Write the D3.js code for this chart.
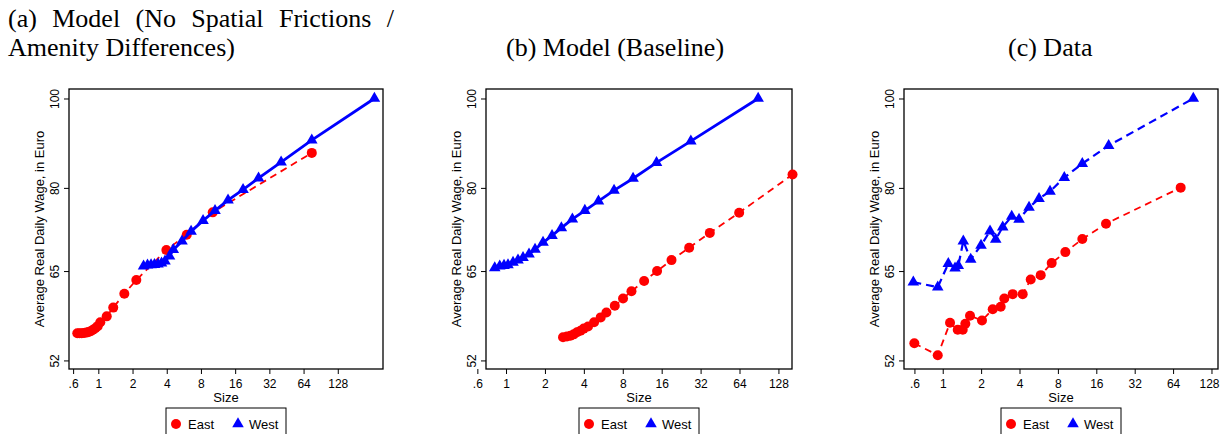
<!DOCTYPE html>
<html>
<head>
<meta charset="utf-8">
<script src="https://cdn.jsdelivr.net/npm/d3@7"></script>
<style>
    body { margin: 0; background: #fff; }
    .title { font-family: "Liberation Serif", "Times New Roman", serif; font-size: 26px; fill: #000; }
</style>
</head>
<body>
<svg id="chart" width="1220" height="434"></svg>
<script>
// ---- data (size = city size, wage = avg real daily wage) ----
// (a) Model, no spatial frictions / amenity differences
const aEastSize = [0.653, 0.683, 0.714, 0.748, 0.784, 0.820, 0.857, 0.898, 0.941, 0.988, 1.041, 1.186, 1.353, 1.694, 2.16, 3.97, 6.00, 10.16, 75.6];
const aEastWage = [55.66, 55.66, 55.66, 55.68, 55.74, 55.82, 55.94, 56.13, 56.34, 56.65, 57.19, 58.05, 59.33, 61.42, 63.56, 68.51, 71.18, 75.26, 87.30];
const aWestSize = [2.50, 2.71, 2.91, 3.12, 3.35, 3.60, 3.86, 4.23, 4.57, 5.45, 6.55, 8.35, 10.64, 13.85, 18.78, 25.7, 40.6, 75.6, 268.8];
const aWestWage = [65.79, 65.95, 66.00, 66.03, 66.12, 66.28, 66.61, 67.45, 68.56, 70.03, 71.77, 73.71, 75.58, 77.59, 79.65, 81.97, 85.32, 90.14, 100.0];

// (b) Model, baseline
const bEastSize = [2.76, 2.96, 3.15, 3.34, 3.54, 3.77, 3.99, 4.31, 4.80, 5.40, 5.98, 6.94, 8.04, 9.34, 11.70, 14.74, 19.06, 26.1, 37.7, 63.6, 164.5];
const bEastWage = [55.1, 55.2, 55.3, 55.5, 55.8, 56.0, 56.3, 56.6, 57.2, 57.9, 58.6, 59.6, 60.7, 61.8, 63.4, 65.0, 66.8, 68.9, 71.5, 75.2, 82.7];
const bWestSize = [0.818, 0.894, 0.965, 1.036, 1.133, 1.238, 1.354, 1.506, 1.677, 1.933, 2.27, 2.68, 3.26, 4.07, 5.19, 6.85, 9.61, 14.6, 26.9, 89.2];
const bWestWage = [65.5, 65.8, 65.9, 66.0, 66.4, 66.8, 67.2, 67.8, 68.6, 69.8, 71.0, 72.4, 74.0, 75.6, 77.4, 79.5, 81.9, 85.2, 89.9, 100.0];

// (c) Data
const cEastSize = [0.599, 0.914, 1.141, 1.311, 1.435, 1.504, 1.637, 2.032, 2.466, 2.848, 3.040, 3.537, 4.237, 4.896, 5.865, 7.15, 9.15, 12.43, 19.07, 73.4];
const cEastWage = [54.28, 52.68, 57.12, 56.13, 56.13, 56.98, 58.13, 57.45, 59.10, 59.45, 60.70, 61.36, 61.36, 63.65, 64.34, 66.30, 68.15, 70.40, 73.16, 80.05];
const cWestSize = [0.588, 0.914, 1.106, 1.249, 1.325, 1.450, 1.658, 1.996, 2.349, 2.603, 2.954, 3.475, 3.965, 4.75, 5.69, 6.94, 8.98, 12.43, 20.0, 92.2];
const cWestWage = [63.22, 62.44, 66.20, 65.47, 65.87, 70.05, 66.91, 69.30, 71.82, 70.35, 72.54, 74.50, 73.95, 76.20, 77.88, 79.31, 82.08, 85.00, 88.91, 100.0];

const xTicks = [0.6, 1, 2, 4, 8, 16, 32, 64, 128];
const yTicks = [52, 65, 80, 100];
const seriesNames = ["East", "West"];

// ---- layout ----
const svg = d3.select("#chart");
const plotTop = 89, plotBottom = 369;
const red = "#ff0000", blue = "#0000ff";
const sansFont = "Liberation Sans, Arial, Helvetica, sans-serif";

const panels = [
    { left: 69,  right: 383,  xMin: 0.552, xMax: 320, east: [aEastSize, aEastWage], west: [aWestSize, aWestWage], westDashed: false },
    { left: 486, right: 792,  xMin: 0.70,  xMax: 163, east: [bEastSize, bEastWage], west: [bWestSize, bWestWage], westDashed: false },
    { left: 904, right: 1218, xMin: 0.497, xMax: 144, east: [cEastSize, cEastWage], west: [cWestSize, cWestWage], westDashed: true }
];

// titles (LaTeX-style subcaptions); first line of (a) is justified, so spread its words
const t1 = svg.append("text").attr("class", "title").attr("x", 8).attr("y", 27)
    .text("(a) Model (No Spatial Frictions /");
const natural = t1.node().getComputedTextLength();
t1.attr("word-spacing", Math.max(0, (386 - natural) / 5));
svg.append("text").attr("class", "title").attr("x", 8).attr("y", 56)
    .text("Amenity Differences)");
svg.append("text").attr("class", "title").attr("x", 506).attr("y", 56)
    .text("(b) Model (Baseline)");
svg.append("text").attr("class", "title").attr("x", 1008).attr("y", 56)
    .text("(c) Data");

const y = d3.scaleLog().domain([50.9, 102.4]).range([plotBottom, plotTop]);

panels.forEach(function(p) {
    const x = d3.scaleLog().base(2).domain([p.xMin, p.xMax]).range([p.left, p.right]);
    const g = svg.append("g");
    const mid = (p.left + p.right) / 2;

    // x axis
    const xa = g.append("g")
        .attr("transform", "translate(0," + plotBottom + ")")
        .call(d3.axisBottom(x).tickValues(xTicks).tickSize(5).tickPadding(5)
            .tickFormat(function(d) { return d < 1 ? ".6" : d; }))
        .attr("font-size", 12).attr("font-family", sansFont);
    xa.select(".domain").remove();
    xa.selectAll("line").attr("stroke", "#000").attr("stroke-width", 1);
    // keep a label that would run off the right edge of the page inside it
    xa.selectAll("text").filter(function(d) { return x(d) + 11 > 1220; })
        .attr("text-anchor", "end").attr("x", 1219 - x(128));

    // y axis, rotated tick labels like Stata
    const ya = g.append("g")
        .attr("transform", "translate(" + p.left + ",0)")
        .call(d3.axisLeft(y).tickValues(yTicks).tickSize(5).tickFormat(d3.format("d")))
        .attr("font-size", 12).attr("font-family", sansFont);
    ya.select(".domain").remove();
    ya.selectAll("text")
        .attr("x", null).attr("dy", null)
        .attr("text-anchor", "middle")
        .attr("transform", "translate(-10,0) rotate(-90)");

    // axis titles
    g.append("text")
        .attr("transform", "translate(" + (p.left - 25) + "," + ((plotTop + plotBottom) / 2) + ") rotate(-90)")
        .attr("text-anchor", "middle")
        .attr("font-family", sansFont).attr("font-size", 13)
        .text("Average Real Daily Wage, in Euro");
    g.append("text")
        .attr("x", mid).attr("y", 402)
        .attr("text-anchor", "middle")
        .attr("font-family", sansFont).attr("font-size", 13)
        .text("Size");

    // plot frame
    g.append("rect")
        .attr("x", p.left).attr("y", plotTop)
        .attr("width", p.right - p.left).attr("height", plotBottom - plotTop)
        .attr("fill", "none").attr("stroke", "#000").attr("stroke-width", 1.3);

    const line = d3.line()
        .x(function(d) { return x(d[0]); })
        .y(function(d) { return y(d[1]); });

    // East: red dashed line, circles
    const east = d3.zip(p.east[0], p.east[1]);
    g.append("path").datum(east)
        .attr("d", line).attr("fill", "none")
        .attr("stroke", red).attr("stroke-width", 1.8).attr("stroke-dasharray", "7,5");
    g.selectAll(".east").data(east).enter().append("circle")
        .attr("class", "east")
        .attr("cx", function(d) { return x(d[0]); })
        .attr("cy", function(d) { return y(d[1]); })
        .attr("r", 5).attr("fill", red);

    // West: blue line (solid in model panels, dashed in data), triangles
    const west = d3.zip(p.west[0], p.west[1]);
    const wp = g.append("path").datum(west)
        .attr("d", line).attr("fill", "none")
        .attr("stroke", blue).attr("stroke-width", p.westDashed ? 2.2 : 2.8);
    if (p.westDashed) wp.attr("stroke-dasharray", "8,5");
    g.selectAll(".west").data(west).enter().append("path")
        .attr("class", "west")
        .attr("d", d3.symbol().type(d3.symbolTriangle).size(58))
        .attr("transform", function(d) { return "translate(" + x(d[0]) + "," + y(d[1]) + ")"; })
        .attr("fill", blue);

    // legend
    const lw = 120, lx = mid - lw / 2, ly = 408;
    const lg = g.append("g");
    lg.append("rect").attr("x", lx).attr("y", ly).attr("width", lw).attr("height", 34)
        .attr("fill", "#fff").attr("stroke", "#000").attr("stroke-width", 1);
    lg.append("circle").attr("cx", lx + 10).attr("cy", ly + 16).attr("r", 5).attr("fill", red);
    lg.append("text").attr("x", lx + 22).attr("y", ly + 21)
        .attr("font-family", sansFont).attr("font-size", 13).text(seriesNames[0]);
    lg.append("path")
        .attr("d", d3.symbol().type(d3.symbolTriangle).size(58))
        .attr("transform", "translate(" + (lx + 72) + "," + (ly + 16) + ")")
        .attr("fill", blue);
    lg.append("text").attr("x", lx + 83).attr("y", ly + 21)
        .attr("font-family", sansFont).attr("font-size", 13).text(seriesNames[1]);
});
</script>
</body>
</html>
